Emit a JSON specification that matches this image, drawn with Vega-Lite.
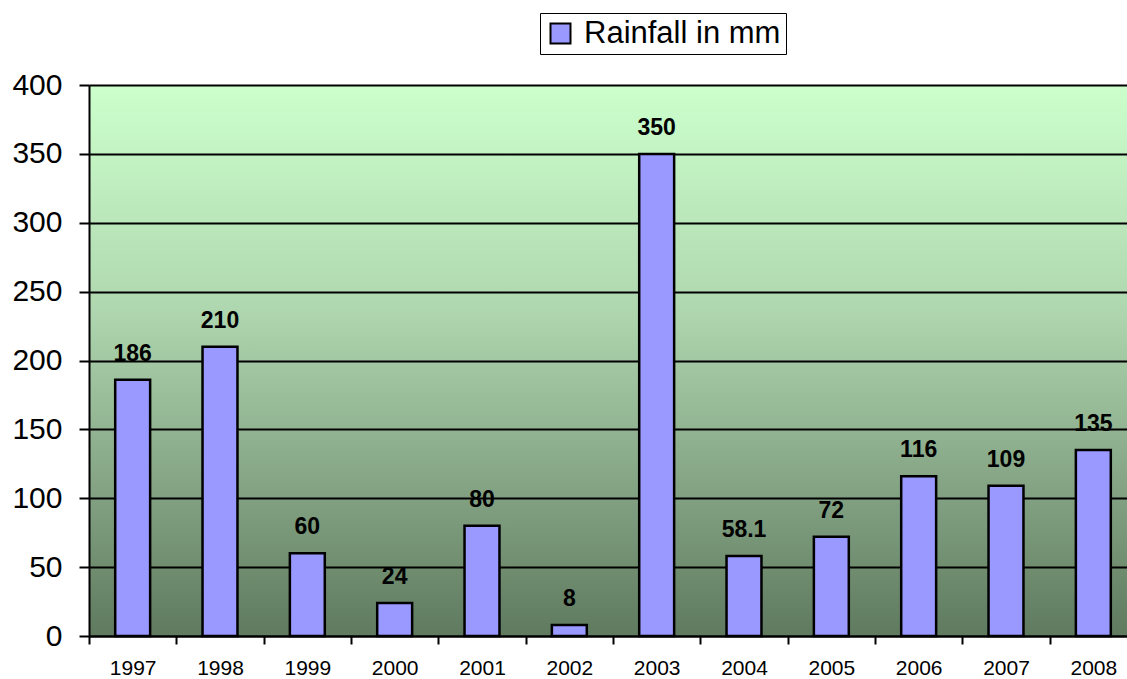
{
  "$schema": "https://vega.github.io/schema/vega-lite/v6.json",
  "width": 1038,
  "height": 551,
  "autosize": {"type": "none"},
  "padding": {"left": 89, "top": 85, "right": 0, "bottom": 43},
  "background": "white",
  "config": {
    "font": "Liberation Sans",
    "view": {
      "stroke": null,
      "fill": {
        "gradient": "linear",
        "x1": 0, "y1": 0, "x2": 0, "y2": 1,
        "stops": [
          {"offset": 0, "color": "#ccffcc"},
          {"offset": 0.4, "color": "#b0d8b0"},
          {"offset": 0.7, "color": "#88a888"},
          {"offset": 1, "color": "#5f7a5f"}
        ]
      }
    }
  },
  "data": {
    "values": [
      {"year": "1997", "rain": 186, "label": "186", "series": "Rainfall in mm"},
      {"year": "1998", "rain": 210, "label": "210", "series": "Rainfall in mm"},
      {"year": "1999", "rain": 60, "label": "60", "series": "Rainfall in mm"},
      {"year": "2000", "rain": 24, "label": "24", "series": "Rainfall in mm"},
      {"year": "2001", "rain": 80, "label": "80", "series": "Rainfall in mm"},
      {"year": "2002", "rain": 8, "label": "8", "series": "Rainfall in mm"},
      {"year": "2003", "rain": 350, "label": "350", "series": "Rainfall in mm"},
      {"year": "2004", "rain": 58.1, "label": "58.1", "series": "Rainfall in mm"},
      {"year": "2005", "rain": 72, "label": "72", "series": "Rainfall in mm"},
      {"year": "2006", "rain": 116, "label": "116", "series": "Rainfall in mm"},
      {"year": "2007", "rain": 109, "label": "109", "series": "Rainfall in mm"},
      {"year": "2008", "rain": 135, "label": "135", "series": "Rainfall in mm"}
    ]
  },
  "layer": [
    {
      "mark": {"type": "bar", "width": {"band": 0.4}, "stroke": "black", "strokeWidth": 2.5},
      "encoding": {
        "x": {
          "field": "year",
          "type": "nominal",
          "sort": null,
          "scale": {"paddingInner": 0, "paddingOuter": 0, "range": [0, 1048]},
          "axis": {
            "title": null,
            "labelAngle": 0,
            "labelFontSize": 21,
            "labelColor": "black",
            "labelPadding": 13,
            "tickBand": "extent",
            "tickSize": 8,
            "tickColor": "black",
            "tickWidth": 2,
            "domainColor": "black",
            "domainWidth": 2,
            "grid": false
          }
        },
        "y": {
          "field": "rain",
          "type": "quantitative",
          "scale": {"domain": [0, 400], "nice": false},
          "axis": {
            "title": null,
            "values": [0, 50, 100, 150, 200, 250, 300, 350, 400],
            "labelFontSize": 30,
            "labelColor": "black",
            "labelPadding": 17,
            "tickSize": 10,
            "tickColor": "black",
            "tickWidth": 2,
            "domainColor": "black",
            "domainWidth": 2,
            "grid": true,
            "gridColor": "black",
            "gridWidth": 2,
            "gridOpacity": 1
          }
        },
        "color": {
          "field": "series",
          "type": "nominal",
          "scale": {"range": ["#9999ff"]},
          "legend": {
            "title": null,
            "orient": "none",
            "legendX": 451,
            "legendY": -72,
            "fillColor": "white",
            "strokeColor": "black",
            "padding": 5,
            "symbolType": "square",
            "symbolSize": 400,
            "symbolStrokeColor": "black",
            "symbolStrokeWidth": 2,
            "symbolOpacity": 1,
            "labelFontSize": 31,
            "labelColor": "black",
            "labelOffset": 8,
            "labelLimit": 400
          }
        }
      }
    },
    {
      "mark": {"type": "text", "baseline": "alphabetic", "dy": -19, "fontSize": 23, "fontWeight": "bold", "color": "black"},
      "encoding": {
        "x": {"field": "year", "type": "nominal", "sort": null},
        "y": {"field": "rain", "type": "quantitative"},
        "text": {"field": "label"}
      }
    }
  ]
}
